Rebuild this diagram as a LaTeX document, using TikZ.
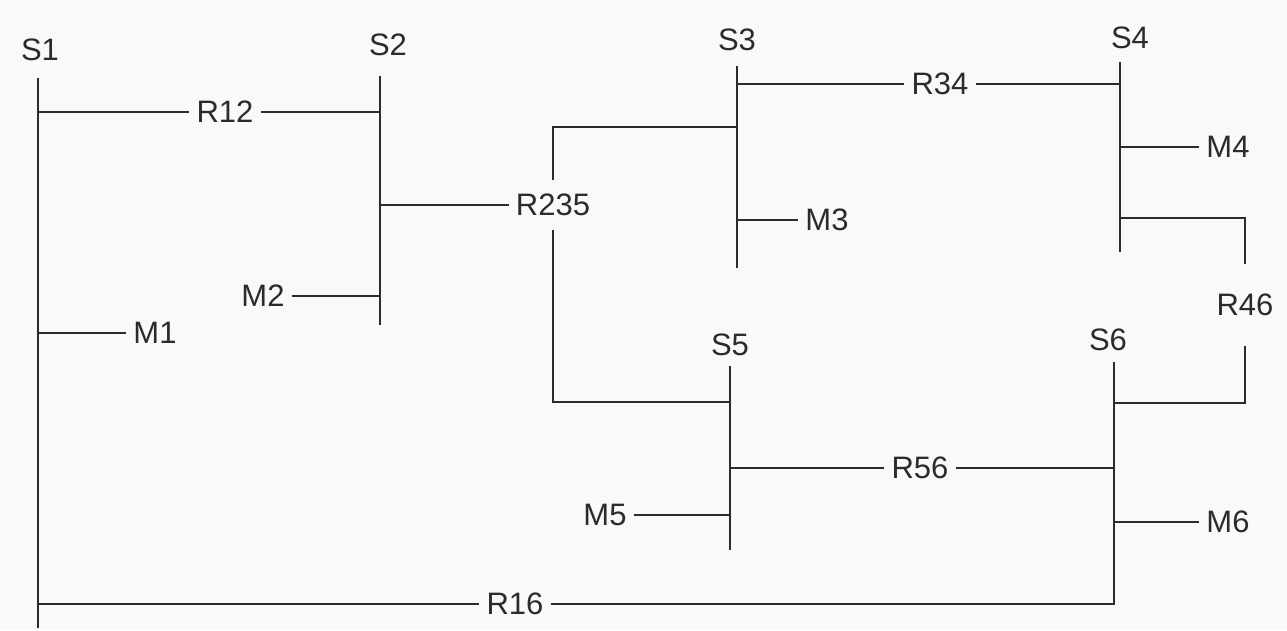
\documentclass[tikz,border=0pt]{standalone}
\usepackage{fontspec}
\setmainfont{Liberation Sans}
\usetikzlibrary{positioning,calc}
\usepackage{xcolor}
\definecolor{ink}{HTML}{2B2B2B}
\definecolor{paper}{HTML}{F7F9FA}
\tikzset{
  every node/.style={font=\fontsize{31}{34}\selectfont,text=ink},
  bus/.style={draw=ink,line width=1.8pt},
  wire/.style={draw=ink,line width=1.6pt},
  tag/.style={inner sep=7pt},
  station/.style={inner sep=2pt},
}

\begin{document}
\begin{tikzpicture}[x=1pt,y=-1pt]
\fill[paper] (0,0) rectangle (1287,630);
\useasboundingbox (0,0) rectangle (1287,630);

% stations (busbars)
\node[station] (S1) at (40,50) {S1};
\node[station] (S2) at (388,45) {S2};
\node[station] (S3) at (737,40) {S3};
\node[station] (S4) at (1130,38) {S4};
\node[station] (S5) at (730,345) {S5};
\node[station] (S6) at (1108,340) {S6};
\coordinate (s1top) at (38,78);   \coordinate (s1bot) at (38,628);
\coordinate (s2top) at (380,76);  \coordinate (s2bot) at (380,325);
\coordinate (s3top) at (737,66);  \coordinate (s3bot) at (737,268);
\coordinate (s4top) at (1120,62); \coordinate (s4bot) at (1120,252);
\coordinate (s5top) at (730,366); \coordinate (s5bot) at (730,550);
\coordinate (s6top) at (1114,362); \coordinate (s6bot) at (1114,605);
\foreach \s in {1,...,6}
  \draw[bus] (s\s top) -- (s\s bot);

% loads
\node[tag] (M1) at (155,333) {M1};
\node[tag] (M2) at (263,296) {M2};
\node[tag] (M3) at (827,220) {M3};
\node[tag] (M4) at (1228,147) {M4};
\node[tag] (M5) at (605,515) {M5};
\node[tag] (M6) at (1228,522) {M6};
\draw[wire] (M1 -| s1top) -- (M1.west);
\draw[wire] (M2.east) -- (M2 -| s2top);
\draw[wire] (M3 -| s3top) -- (M3.west);
\draw[wire] (M4 -| s4top) -- (M4.west);
\draw[wire] (M5.east) -- (M5 -| s5top);
\draw[wire] (M6 -| s6top) -- (M6.west);

% lines between stations
\node[tag] (R12) at (225,112) {R12};
\draw[wire] (R12 -| s1top) -- (R12.west);
\draw[wire] (R12.east) -- (R12 -| s2top);

\node[tag] (R34) at (940,84) {R34};
\draw[wire] (R34 -| s3top) -- (R34.west);
\draw[wire] (R34.east) -- (R34 -| s4top);

\node[tag] (R56) at (920,468) {R56};
\draw[wire] (R56 -| s5top) -- (R56.west);
\draw[wire] (R56.east) -- (R56 -| s6top);

\node[tag] (R16) at (515,604) {R16};
\draw[wire] (R16 -| s1top) -- (R16.west);
\draw[wire] (R16.east) -- (R16 -| s6top);

\node[tag,minimum height=50pt] (R235) at (553,205) {R235};
\coordinate (j3) at (737,127);
\coordinate (j5) at (730,402);
\draw[wire] (R235 -| s2top) -- (R235.west);
\draw[wire] (R235.north) |- (j3);
\draw[wire] (R235.south) |- (j5);

\node[tag,minimum height=82pt] (R46) at (1245,305) {R46};
\coordinate (j4) at (1120,218);
\coordinate (j6) at (1114,403);
\draw[wire] (j4) -| (R46.north);
\draw[wire] (j6) -| (R46.south);

\end{tikzpicture}
\end{document}
